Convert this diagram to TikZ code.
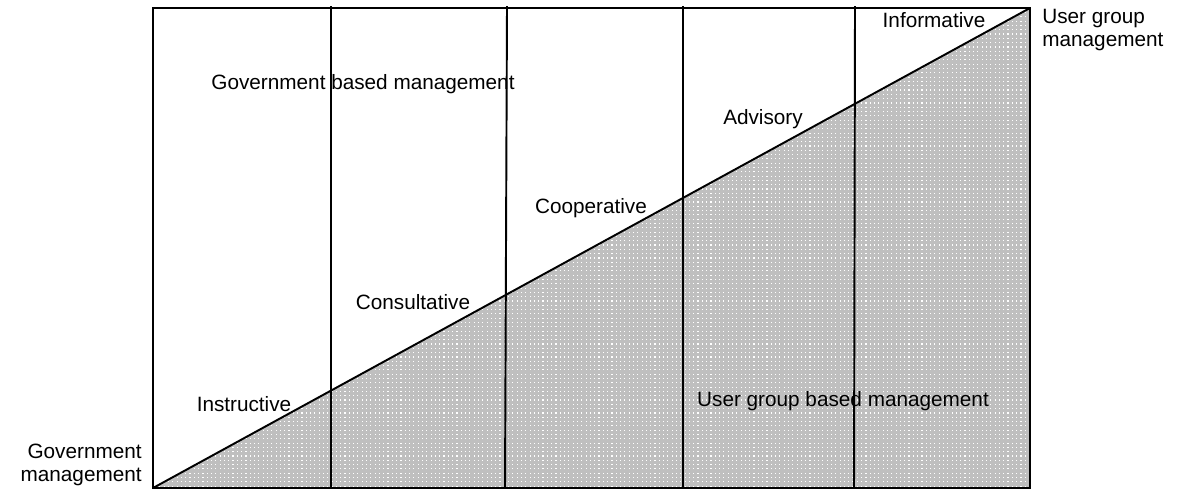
\documentclass[tikz,border=0pt]{standalone}
\usepackage{fontspec}
\setmainfont{Liberation Sans}
\usetikzlibrary{patterns}

% small white dots on the grey user group area
\pgfdeclarepatternformonly{userdots}{\pgfpoint{-1pt}{-1pt}}{\pgfpoint{2pt}{2pt}}{\pgfpoint{2.45pt}{2.45pt}}{%
  \pgfpathrectangle{\pgfpoint{0pt}{0pt}}{\pgfpoint{0.65pt}{0.65pt}}\pgfusepath{fill}}

\begin{document}
\begin{tikzpicture}[x=0.2mm,y=-0.2mm,font=\fontsize{11.8}{13}\selectfont]
      \tikzstyle{frame line}=[line width=1.1pt]
      \tikzstyle{stage line}=[line width=1.1pt]
      \tikzstyle{stage}=[inner sep=0pt]
      \tikzstyle{end label}=[inner sep=0pt]

      \useasboundingbox (0,0) rectangle (1181,491);

      \coordinate (bl) at (153,488);
      \coordinate (br) at (1030,488);
      \coordinate (tr) at (1030,8);
      \coordinate (tl) at (153,8);

      % shaded user group part
      \fill[black!25] (bl) -- (br) -- (tr) -- cycle;
      \fill[pattern=userdots,pattern color=white] (bl) -- (br) -- (tr) -- cycle;

      % stage borders
      \foreach \xt/\xb [count=\i] in {331/331, 507/505, 683/683, 855/854}{
          \coordinate (t\i) at (\xt,6);
          \coordinate (b\i) at (\xb,488);
          \draw[stage line] (t\i) -- (b\i);
      }

      \draw[frame line] (bl) -- (tr);
      \draw[frame line] (tl) -- (tr) -- (br) -- (bl) -- cycle;
      \draw[line width=1.6pt] (tr) -- (br);

      \node(gov)[stage] at (363,84) {Government based management};
      \node(user)[stage] at (843,401) {User group based management};

      \node(instr)[stage] at (244,404) {Instructive};
      \node(consu)[stage] at (413,302) {Consultative};
      \node(coop)[stage] at (591,208) {Cooperative};
      \node(advis)[stage] at (763,119) {Advisory};
      \node(inform)[stage] at (934,20) {Informative};

      \node(govend)[end label,anchor=east,align=right] at (142,465) {Government\\management};
      \node(userend)[end label,anchor=west,align=left] at (1042,30) {User group\\management};
\end{tikzpicture}
\end{document}
